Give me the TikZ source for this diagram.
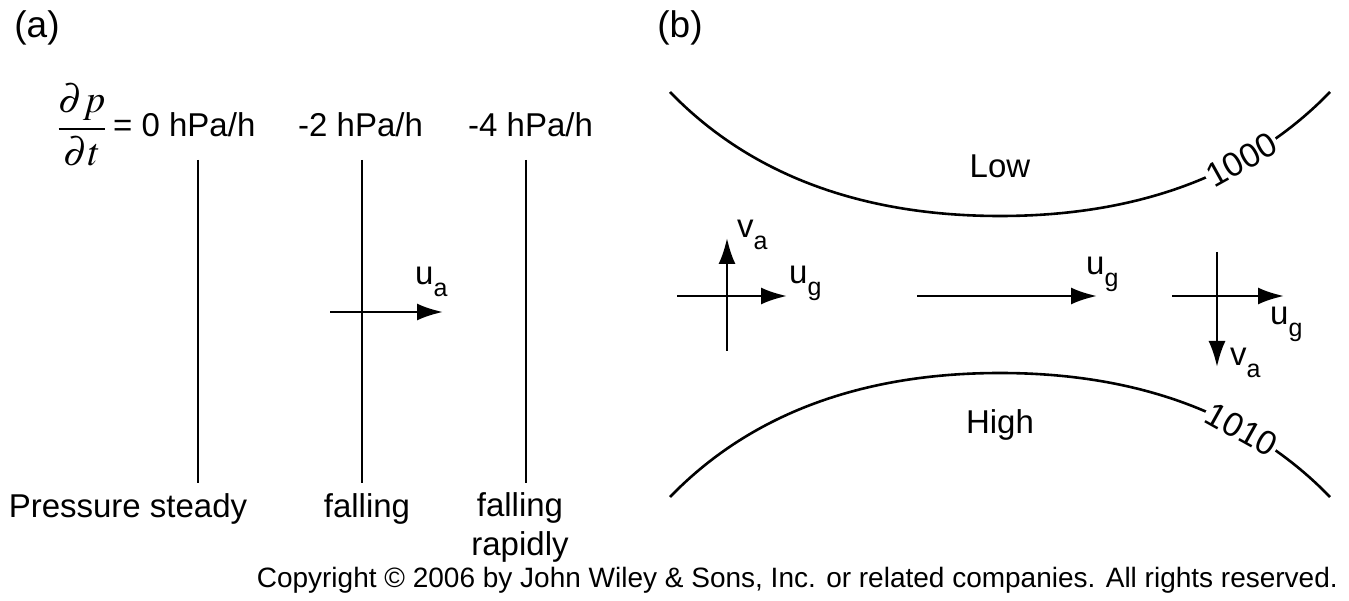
\documentclass[tikz,border=0pt]{standalone}
\usepackage{amsmath}
\usepackage{mathptmx}
\usepackage{fontspec}
\setmainfont{Liberation Sans}
\usetikzlibrary{arrows.meta}

\newcommand{\lsub}[1]{\raisebox{-0.36em}{\fontsize{25}{25}\selectfont #1}}

\begin{document}
\begin{tikzpicture}[x=1pt, y=-1pt,
    lbl/.style={font=\fontsize{33}{39}\selectfont, inner sep=0pt},
    panel/.style={font=\fontsize{37}{40}\selectfont, inner sep=0pt},
    small/.style={font=\fontsize{28}{32}\selectfont, inner sep=0pt},
    bar/.style={line width=2.6pt},
    vec/.style={line width=2.6pt, -{Latex[length=26pt,width=17pt]}},
    isobar/.style={line width=2.6pt},
    isolbl/.style={font=\fontsize{34}{39}\selectfont, fill=white, inner sep=2pt, sloped}
]
    \useasboundingbox (0,0) rectangle (1349,601);

    % Panneau (a)
    \node[panel] (pa) at (37,28) {(a)};
    \node[font=\fontsize{39}{44}\selectfont, inner sep=0pt] (dpdt) at (82,125) {$\dfrac{\partial p}{\partial t}$};
    \node[lbl, anchor=west] (rate0) at (113,125) {= 0 hPa/h};
    \node[lbl, anchor=west] (rate2) at (298,125) {-2 hPa/h};
    \node[lbl, anchor=west] (rate4) at (468,125) {-4 hPa/h};

    \coordinate (s0t) at (198,160);
    \coordinate (s0b) at (198,483);
    \coordinate (s2t) at (362,160);
    \coordinate (s2b) at (362,483);
    \coordinate (s4t) at (526,160);
    \coordinate (s4b) at (526,483);
    \draw[bar] (s0t) -- (s0b);
    \draw[bar] (s2t) -- (s2b);
    \draw[bar] (s4t) -- (s4b);

    \coordinate (ua0) at (330,312);
    \coordinate (ua1) at (443,312);
    \draw[vec] (ua0) -- (ua1);
    \node[lbl, anchor=base west] (ualbl) at (415,285) {u\lsub{a}};

    \node[lbl] (steady) at (128,509) {Pressure steady};
    \node[lbl] (falling) at (367,509) {falling};
    \node[lbl, align=center, anchor=north] (rapid) at (520,492) {falling\\rapidly};

    % Panneau (b)
    \node[panel] (pb) at (680,28) {(b)};

    \coordinate (lo0) at (670,92);
    \coordinate (lo1) at (1000,216);
    \coordinate (lo2) at (1330,92);
    \draw[isobar] (lo0) .. controls (760,185) and (880,216) .. (lo1)
        .. controls (1120,216) and (1240,185) .. (lo2)
        node[isolbl, pos=0.7] (iso1000) {1000};
    \node[lbl] (low) at (1000,166) {Low};

    \coordinate (hi0) at (670,497);
    \coordinate (hi1) at (1000,373);
    \coordinate (hi2) at (1330,497);
    \draw[isobar] (hi0) .. controls (760,404) and (880,373) .. (hi1)
        .. controls (1120,373) and (1240,404) .. (hi2)
        node[isolbl, pos=0.7] (iso1010) {1010};
    \node[lbl] (high) at (1000,425) {High};

    % Croix de gauche
    \coordinate (lh0) at (677,296);
    \coordinate (lh1) at (787,296);
    \coordinate (lv0) at (727,351);
    \coordinate (lv1) at (727,238);
    \draw[vec] (lh0) -- (lh1);
    \draw[vec] (lv0) -- (lv1);
    \node[lbl, anchor=base west] (lva) at (737,238) {v\lsub{a}};
    \node[lbl, anchor=base west] (lug) at (789,284) {u\lsub{g}};

    % Flèche du milieu
    \coordinate (mh0) at (917,296);
    \coordinate (mh1) at (1097,296);
    \draw[vec] (mh0) -- (mh1);
    \node[lbl, anchor=base west] (mug) at (1086,275) {u\lsub{g}};

    % Croix de droite
    \coordinate (rh0) at (1172,296);
    \coordinate (rh1) at (1284,296);
    \coordinate (rv0) at (1217,252);
    \coordinate (rv1) at (1217,367);
    \draw[vec] (rh0) -- (rh1);
    \draw[vec] (rv0) -- (rv1);
    \node[lbl, anchor=base west] (rug) at (1270,325) {u\lsub{g}};
    \node[lbl, anchor=base west] (rva) at (1230,366) {v\lsub{a}};

    \node[small, anchor=east] (copy) at (1338,580) {Copyright © 2006 by John Wiley \& Sons, Inc. or related companies. All rights reserved.};
\end{tikzpicture}
\end{document}
